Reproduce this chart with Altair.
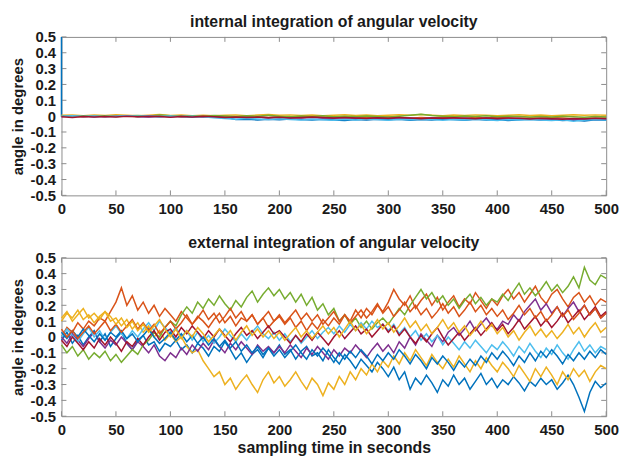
import altair as alt
import pandas as pd

FONT = "Liberation Sans"
GRAY = "#8c8c8c"
TXT = "#1a1a1a"

x_ticks = [0, 50, 100, 150, 200, 250, 300, 350, 400, 450, 500]
y_ticks = [-0.5, -0.4, -0.3, -0.2, -0.1, 0.0, 0.1, 0.2, 0.3, 0.4, 0.5]

series_names = ["s1", "s2", "s3", "s4", "s5", "s6", "s7", "s8", "s9", "s10"]
series_colors = ["#0072BD", "#D95319", "#EDB120", "#7E2F8E", "#77AC30",
                 "#4DBEEE", "#A2142F", "#0072BD", "#D95319", "#EDB120"]

# ---------- bottom panel: external integration (5 s steps) ----------
t_ext = list(range(0, 501, 5))

ext_s1 = [-0.02, 0.03, -0.04, 0.01, -0.05, 0.0, 0.04, -0.03, 0.02, -0.06, -0.01, 0.03, -0.04, -0.08, -0.02, 0.01, -0.05, -0.03, -0.09, -0.04,
          -0.06, -0.02, -0.08, -0.05, -0.1, -0.04, -0.07, -0.12, -0.06, -0.09, -0.03, -0.08, -0.14, -0.1, -0.16, -0.11, -0.08, -0.13, -0.07, -0.1,
          -0.05, -0.11, -0.08, -0.14, -0.09, -0.06, -0.12, -0.1, -0.15, -0.08, -0.13, -0.17, -0.11, -0.15, -0.2, -0.14, -0.18, -0.22, -0.16, -0.2,
          -0.25, -0.19, -0.27, -0.22, -0.33, -0.26, -0.3, -0.24, -0.29, -0.35, -0.27, -0.31, -0.24, -0.3, -0.26, -0.33, -0.28, -0.23, -0.3, -0.26,
          -0.32, -0.27, -0.3, -0.25, -0.29, -0.34, -0.28, -0.31, -0.26, -0.3, -0.27, -0.33, -0.29, -0.24, -0.3, -0.38, -0.47, -0.35, -0.28, -0.32, -0.29]
ext_s2 = [0.0, 0.06, 0.03, 0.09, 0.05, 0.1, 0.07, 0.12, 0.1, 0.16, 0.22, 0.31, 0.2, 0.26, 0.17, 0.22, 0.15, 0.2, 0.13, 0.18,
          0.14, 0.1, 0.16, 0.12, 0.08, 0.13, 0.1, 0.06, 0.11, 0.15, 0.09, 0.13, 0.07, 0.12, 0.1, 0.14, 0.08, 0.12, 0.06, 0.1,
          0.13, 0.08, 0.12, 0.06, 0.1, 0.04, 0.09, 0.05, 0.11, 0.07, 0.12, 0.08, 0.14, 0.1, 0.17, 0.12, 0.18, 0.14, 0.2, 0.16,
          0.22, 0.3, 0.24, 0.2, 0.26, 0.18, 0.23, 0.27, 0.2, 0.25, 0.17, 0.22, 0.26, 0.19, 0.24, 0.21, 0.28, 0.23, 0.18, 0.24,
          0.2, 0.26, 0.3, 0.24, 0.28, 0.22, 0.27, 0.32, 0.25, 0.21, 0.27, 0.3, 0.24, 0.19, 0.25, 0.28, 0.22, 0.26, 0.2, 0.24, 0.22]
ext_s3 = [0.1, 0.15, 0.12, 0.17, 0.11, 0.14, 0.09, 0.13, 0.16, 0.1, 0.12, 0.07, 0.11, 0.05, 0.09, 0.03, 0.07, 0.0, 0.04, -0.02,
          0.02, -0.03, 0.0, -0.06, -0.1, -0.08, -0.15, -0.2, -0.25, -0.22, -0.3, -0.26, -0.33, -0.28, -0.24, -0.3, -0.35, -0.27, -0.22, -0.29,
          -0.25, -0.31, -0.27, -0.22, -0.28, -0.33, -0.26, -0.3, -0.37, -0.29, -0.33, -0.25, -0.3, -0.22, -0.27, -0.2, -0.24, -0.17, -0.22, -0.15,
          -0.19, -0.12, -0.17, -0.1, -0.15, -0.08, -0.13, -0.18, -0.11, -0.16, -0.2, -0.14, -0.19, -0.12, -0.17, -0.22, -0.15, -0.2, -0.13, -0.18,
          -0.22, -0.16, -0.2, -0.25, -0.18, -0.23, -0.28, -0.2, -0.25, -0.19, -0.24, -0.3, -0.22, -0.27, -0.2, -0.25, -0.21, -0.28, -0.22, -0.18, -0.2]
ext_s4 = [0.0, -0.04, 0.02, -0.02, -0.06, -0.01, 0.03, -0.03, -0.07, -0.02, -0.05, 0.0, -0.04, -0.08, -0.03, -0.06, -0.1, -0.05, -0.12, -0.15,
          -0.1, -0.13, -0.07, -0.11, -0.05, -0.09, -0.04, -0.08, -0.02, -0.06, -0.1, -0.04, -0.08, -0.03, -0.07, -0.11, -0.05, -0.09, -0.06, -0.1,
          -0.06, -0.1, -0.05, -0.09, -0.13, -0.07, -0.11, -0.06, -0.1, -0.14, -0.08, -0.12, -0.07, -0.1, -0.05, -0.09, -0.13, -0.08, -0.04, -0.09,
          -0.05, -0.1, -0.03, -0.07, 0.0, -0.05, 0.02, -0.02, -0.06, 0.01, -0.03, 0.03, 0.06, 0.01, 0.05, 0.1, 0.04, 0.08, 0.12, 0.07,
          0.05, 0.1, 0.08, 0.14, 0.1, 0.16, 0.2, 0.24, 0.17, 0.21, 0.15, 0.19, 0.13, 0.18, 0.22, 0.16, 0.2, 0.14, 0.18, 0.12, 0.15]
ext_s5 = [-0.05, -0.1, -0.06, -0.12, -0.08, -0.14, -0.1, -0.13, -0.09, -0.15, -0.11, -0.16, -0.12, -0.08, -0.11, -0.05, -0.02, 0.03, 0.0, 0.06,
          0.1, 0.07, 0.14, 0.19, 0.15, 0.22, 0.18, 0.24, 0.2, 0.26, 0.21, 0.17, 0.23, 0.19, 0.25, 0.29, 0.22, 0.27, 0.31, 0.26,
          0.3, 0.24, 0.28, 0.22, 0.27, 0.2, 0.25, 0.17, 0.21, 0.14, 0.18, 0.1, 0.14, 0.08, 0.12, 0.06, 0.1, 0.05, 0.09, 0.12,
          0.08, 0.13, 0.18, 0.14, 0.2, 0.25, 0.3, 0.24, 0.28, 0.22, 0.26, 0.2, 0.24, 0.18, 0.23, 0.27, 0.21, 0.25, 0.2, 0.24,
          0.22, 0.27, 0.23, 0.29, 0.34, 0.27, 0.31, 0.26, 0.3, 0.35, 0.29, 0.33, 0.28, 0.32, 0.38, 0.31, 0.44, 0.36, 0.33, 0.39, 0.37]
ext_s6 = [0.0, 0.05, 0.01, -0.03, 0.02, 0.06, 0.0, 0.04, -0.02, 0.03, 0.07, 0.02, -0.01, 0.04, 0.0, 0.05, 0.09, 0.04, 0.1, 0.06,
          0.02, 0.06, 0.0, 0.04, -0.02, 0.03, -0.03, 0.01, -0.04, 0.0, 0.05, 0.01, -0.03, 0.02, -0.02, 0.03, 0.07, 0.02, -0.01, 0.03,
          -0.02, 0.02, -0.03, 0.01, -0.04, 0.0, 0.04, -0.01, 0.03, 0.06, 0.02, 0.07, 0.03, 0.08, 0.04, 0.09, 0.05, 0.1, 0.06, 0.08,
          0.04, 0.08, 0.02, 0.06, 0.0, 0.04, -0.02, 0.02, -0.03, 0.01, -0.05, 0.0, -0.04, -0.08, -0.03, -0.07, -0.02, -0.06, -0.1, -0.05,
          -0.08, -0.03, -0.07, -0.12, -0.06, -0.1, -0.04, -0.09, -0.13, -0.07, -0.11, -0.05, -0.1, -0.14, -0.08, -0.03, -0.09, -0.05, -0.1, -0.06, -0.08]
ext_s7 = [-0.02, -0.06, 0.0, -0.04, -0.08, -0.03, -0.07, -0.01, -0.05, 0.0, -0.04, -0.09, -0.03, -0.06, -0.01, -0.05, 0.0, 0.04, -0.02, 0.03,
          0.05, 0.0, 0.06, 0.02, 0.07, 0.03, -0.01, 0.04, 0.0, 0.05, 0.01, -0.03, 0.02, 0.06, 0.01, 0.04, -0.01, 0.03, 0.07, 0.02,
          0.04, 0.0, -0.04, 0.01, -0.03, 0.02, -0.02, 0.03, -0.01, -0.05, 0.0, 0.04, -0.01, 0.03, 0.07, 0.02, 0.05, 0.0, 0.04, 0.08,
          0.03, 0.07, 0.01, 0.05, 0.0, -0.04, 0.01, -0.03, 0.02, 0.06, 0.0, -0.05, -0.01, 0.03, -0.02, 0.02, 0.06, 0.01, 0.05, 0.09,
          0.04, 0.08, 0.02, 0.06, 0.11, 0.05, 0.09, 0.13, 0.07, 0.11, 0.06, 0.1, 0.15, 0.09, 0.13, 0.17, 0.11, 0.15, 0.19, 0.13, 0.16]
ext_s8 = [0.03, -0.01, 0.04, 0.0, 0.05, 0.01, -0.03, 0.02, -0.02, 0.03, 0.0, 0.04, -0.01, 0.02, -0.03, 0.01, 0.05, 0.0, -0.04, -0.01,
          0.03, -0.02, 0.02, -0.03, 0.01, -0.04, 0.0, -0.05, -0.01, -0.06, -0.02, -0.07, -0.03, -0.09, -0.05, -0.1, -0.06, -0.11, -0.07, -0.12,
          -0.08, -0.13, -0.09, -0.05, -0.1, -0.14, -0.08, -0.12, -0.07, -0.11, -0.16, -0.1, -0.14, -0.09, -0.13, -0.08, -0.12, -0.17, -0.11, -0.15,
          -0.1, -0.14, -0.08, -0.12, -0.17, -0.11, -0.15, -0.2, -0.13, -0.17, -0.12, -0.16, -0.21, -0.15, -0.19, -0.14, -0.18, -0.12, -0.16, -0.1,
          -0.14, -0.09, -0.13, -0.18, -0.12, -0.16, -0.1, -0.15, -0.09, -0.13, -0.08, -0.12, -0.17, -0.11, -0.15, -0.1, -0.14, -0.09, -0.13, -0.08, -0.11]
ext_s9 = [0.05, 0.0, 0.04, -0.01, 0.03, 0.07, 0.02, 0.06, 0.1, 0.04, 0.08, 0.03, 0.07, 0.11, 0.05, 0.09, 0.04, 0.08, 0.02, 0.06,
          0.1, 0.05, 0.09, 0.14, 0.08, 0.12, 0.17, 0.11, 0.15, 0.09, 0.13, 0.18, 0.12, 0.16, 0.1, 0.14, 0.08, 0.12, 0.16, 0.1,
          0.14, 0.09, 0.13, 0.17, 0.11, 0.15, 0.1, 0.14, 0.08, 0.12, 0.16, 0.1, 0.14, 0.09, 0.13, 0.17, 0.12, 0.16, 0.21, 0.15,
          0.19, 0.13, 0.17, 0.22, 0.16, 0.2, 0.14, 0.18, 0.12, 0.16, 0.21, 0.15, 0.19, 0.13, 0.17, 0.22, 0.16, 0.2, 0.14, 0.18,
          0.13, 0.17, 0.11, 0.15, 0.2, 0.14, 0.18, 0.12, 0.16, 0.1, 0.14, 0.19, 0.13, 0.17, 0.11, 0.15, 0.2, 0.14, 0.18, 0.12, 0.15]
ext_s10 = [0.12, 0.16, 0.1, 0.14, 0.18, 0.12, 0.15, 0.11, 0.16, 0.13, 0.08, 0.12, 0.06, 0.1, 0.04, 0.08, 0.03, 0.07, 0.11, 0.05,
           0.0, 0.05, -0.01, 0.04, 0.0, 0.06, 0.02, -0.03, 0.01, 0.05, 0.0, 0.04, -0.02, 0.03, 0.07, 0.01, 0.05, 0.0, 0.04, -0.01,
           0.03, -0.02, 0.02, 0.06, 0.0, 0.04, -0.01, 0.03, 0.07, 0.02, 0.06, 0.0, 0.05, 0.1, 0.04, 0.08, 0.02, 0.06, 0.11, 0.05,
           0.09, 0.03, 0.07, 0.12, 0.06, 0.1, 0.04, 0.08, 0.02, 0.06, 0.11, 0.05, 0.09, 0.03, 0.07, 0.01, 0.05, 0.1, 0.04, 0.08,
           0.02, 0.06, 0.0, 0.04, -0.02, 0.03, 0.07, 0.01, 0.05, 0.0, 0.04, -0.01, 0.03, 0.08, 0.02, 0.06, 0.0, 0.05, 0.09, 0.03, 0.06]

# ---------- top panel: internal integration (10 s steps) ----------
t_int = list(range(0, 501, 10))

int_s1 = [0.0, -0.003, 0.002, -0.004, 0.001, -0.002, 0.003, -0.003, 0.0, -0.004, 0.002, -0.002, -0.005, -0.001, -0.004, -0.006,
          -0.022, -0.019, -0.024, -0.02, -0.023, -0.018, -0.022, -0.025, -0.02, -0.024, -0.027, -0.021, -0.025, -0.019, -0.023, -0.02,
          -0.026, -0.021, -0.024, -0.018, -0.022, -0.026, -0.02, -0.024, -0.021, -0.027, -0.023, -0.019, -0.025, -0.022, -0.028, -0.024,
          -0.03, -0.023, -0.026]
int_s1_start = 0.5  # initial value of the first run at t = 0
int_s2 = [0.003, 0.0, -0.004, 0.002, -0.002, 0.004, 0.0, -0.003, 0.002, -0.001, 0.003, -0.002, 0.001, -0.004, 0.0, -0.003,
          -0.006, -0.002, -0.005, -0.008, -0.004, -0.007, -0.01, -0.006, -0.009, -0.005, -0.008, -0.012, -0.007, -0.01, -0.006, -0.009,
          -0.013, -0.008, -0.011, -0.007, -0.01, -0.014, -0.009, -0.012, -0.008, -0.011, -0.015, -0.01, -0.013, -0.009, -0.012, -0.016,
          -0.011, -0.014, -0.012]
int_s3 = [0.005, 0.008, 0.003, 0.007, 0.004, 0.009, 0.005, 0.002, 0.006, 0.01, 0.004, 0.007, 0.003, 0.006, 0.002, 0.005,
          0.008, 0.003, 0.007, 0.01, 0.005, 0.008, 0.004, 0.007, 0.003, 0.006, 0.009, 0.004, 0.007, 0.002, 0.006, 0.009,
          0.005, 0.01, 0.006, 0.003, 0.007, 0.004, 0.008, 0.005, 0.002, 0.006, 0.009, 0.004, 0.007, 0.003, 0.006, 0.009,
          0.005, 0.008, 0.006]
int_s4 = [-0.002, 0.001, -0.003, 0.0, -0.004, -0.001, 0.002, -0.002, -0.005, -0.001, -0.004, 0.0, -0.003, -0.006, -0.002, -0.005,
          -0.008, -0.004, -0.007, -0.01, -0.006, -0.009, -0.012, -0.008, -0.011, -0.014, -0.01, -0.013, -0.016, -0.012, -0.015, -0.018,
          -0.013, -0.016, -0.012, -0.015, -0.019, -0.014, -0.017, -0.013, -0.016, -0.02, -0.015, -0.018, -0.022, -0.016, -0.02, -0.024,
          -0.018, -0.021, -0.019]
int_s5 = [0.002, -0.001, 0.003, 0.0, 0.002, -0.002, 0.001, 0.004, 0.0, 0.008, 0.002, -0.001, 0.003, 0.0, 0.004, 0.001,
          -0.002, 0.002, -0.001, 0.006, 0.0, -0.003, 0.001, -0.002, 0.002, -0.004, 0.0, -0.003, 0.001, -0.002, -0.005, 0.0,
          0.006, 0.012, 0.004, 0.0, -0.003, 0.001, -0.002, 0.002, -0.004, 0.0, -0.003, -0.006, -0.002, -0.005, -0.001, -0.004,
          -0.007, -0.003, -0.005]
int_s6 = [0.0, 0.002, -0.002, 0.001, -0.003, 0.0, 0.003, -0.001, 0.002, -0.002, 0.001, -0.003, 0.0, -0.004, -0.01, -0.015,
          -0.019, -0.014, -0.018, -0.022, -0.017, -0.021, -0.025, -0.019, -0.023, -0.026, -0.02, -0.024, -0.018, -0.022, -0.026, -0.02,
          -0.023, -0.019, -0.022, -0.026, -0.021, -0.024, -0.02, -0.023, -0.027, -0.022, -0.025, -0.021, -0.024, -0.028, -0.023, -0.032,
          -0.025, -0.022, -0.024]
int_s7 = [-0.004, -0.009, -0.003, -0.006, -0.002, -0.005, -0.001, -0.004, 0.0, -0.003, -0.007, -0.002, -0.005, -0.001, -0.004, -0.008,
          -0.005, -0.009, -0.006, -0.01, -0.007, -0.011, -0.008, -0.005, -0.009, -0.012, -0.008, -0.011, -0.015, -0.01, -0.013, -0.009,
          -0.012, -0.016, -0.011, -0.014, -0.01, -0.013, -0.017, -0.012, -0.015, -0.011, -0.014, -0.018, -0.013, -0.016, -0.02, -0.015,
          -0.018, -0.014, -0.017]

ext_all = [ext_s1, ext_s2, ext_s3, ext_s4, ext_s5, ext_s6, ext_s7, ext_s8, ext_s9, ext_s10]
int_all = [int_s1, int_s2, int_s3, int_s4, int_s5, int_s6, int_s7]

for k, s in enumerate(ext_all):
    assert len(s) == len(t_ext), ("ext", k + 1, len(s))
for k, s in enumerate(int_all):
    assert len(s) == len(t_int), ("int", k + 1, len(s))

rows = []
for name, vals in zip(series_names, ext_all):
    for i, (t, v) in enumerate(zip(t_ext, vals)):
        rows.append({"series": name, "i": i, "t": t, "v": v})
df_ext = pd.DataFrame(rows)

rows = []
for name, vals in zip(series_names, int_all):
    i0 = 0
    if name == "s1":
        rows.append({"series": name, "i": 0, "t": 0, "v": int_s1_start})
        i0 = 1
    for i, (t, v) in enumerate(zip(t_int, vals)):
        rows.append({"series": name, "i": i + i0, "t": t, "v": v})
df_int = pd.DataFrame(rows)

W, H = 550, 160
xs = alt.Scale(domain=[0, 500], nice=False, zero=False)
ys = alt.Scale(domain=[-0.5, 0.5], nice=False, zero=False)
ylab = "datum.value == 0 ? '0' : (datum.value < 0 ? '-' + format(-datum.value, '.1f') : format(datum.value, '.1f'))"


def panel(df, title, xtitle):
    if xtitle:
        xaxis = alt.Axis(values=x_ticks, format="d", title=xtitle, labelFlush=False)
    else:
        xaxis = alt.Axis(values=x_ticks, format="d", title="", labelFlush=False)
    yaxis = alt.Axis(values=y_ticks, labelExpr=ylab, title="angle in degrees", labelFlush=False)
    lines = alt.Chart(df).mark_line(strokeWidth=1.5, clip=False).encode(
        x=alt.X("t:Q", scale=xs, axis=xaxis),
        y=alt.Y("v:Q", scale=ys, axis=yaxis),
        color=alt.Color("series:N", scale=alt.Scale(domain=series_names, range=series_colors), legend=None),
        order=alt.Order("i:Q"),
    )
    xt = alt.Chart(pd.DataFrame({"t": x_ticks}))
    yt = alt.Chart(pd.DataFrame({"v": y_ticks}))
    tb = xt.mark_rule(color=GRAY, strokeWidth=1).encode(
        x=alt.X("t:Q", scale=xs, axis=xaxis), y=alt.value(H), y2=alt.value(H - 5))
    tt = xt.mark_rule(color=GRAY, strokeWidth=1).encode(
        x=alt.X("t:Q", scale=xs, axis=xaxis), y=alt.value(0), y2=alt.value(5))
    tl = yt.mark_rule(color=GRAY, strokeWidth=1).encode(
        y=alt.Y("v:Q", scale=ys, axis=yaxis), x=alt.value(0), x2=alt.value(5))
    tr = yt.mark_rule(color=GRAY, strokeWidth=1).encode(
        y=alt.Y("v:Q", scale=ys, axis=yaxis), x=alt.value(W), x2=alt.value(W - 5))
    return alt.layer(tb, tt, tl, tr, lines).properties(
        width=W, height=H,
        title=alt.TitleParams(title, font=FONT, fontSize=16, fontWeight="bold", color=TXT, offset=0),
    )


top = panel(df_int, "internal integration of angular velocity", None)
bottom = panel(df_ext, "external integration of angular velocity", "sampling time in seconds")

chart = alt.vconcat(top, bottom, spacing=17).properties(
    padding={"left": 1, "top": 3, "right": 5, "bottom": 0}
).configure_view(
    stroke=GRAY, strokeWidth=1
).configure_axis(
    ticks=False, domain=False, grid=False,
    labelFont=FONT, labelFontSize=15, labelFontWeight="bold", labelColor=TXT,
    titleFont=FONT, titleFontSize=16, titleFontWeight="bold", titleColor=TXT,
).configure_axisX(
    labelPadding=6, titlePadding=3,
).configure_axisY(
    labelPadding=6, titlePadding=5, titleFontSize=15,
)

chart.save("out.html", embed_options={"renderer": "svg", "actions": False})
